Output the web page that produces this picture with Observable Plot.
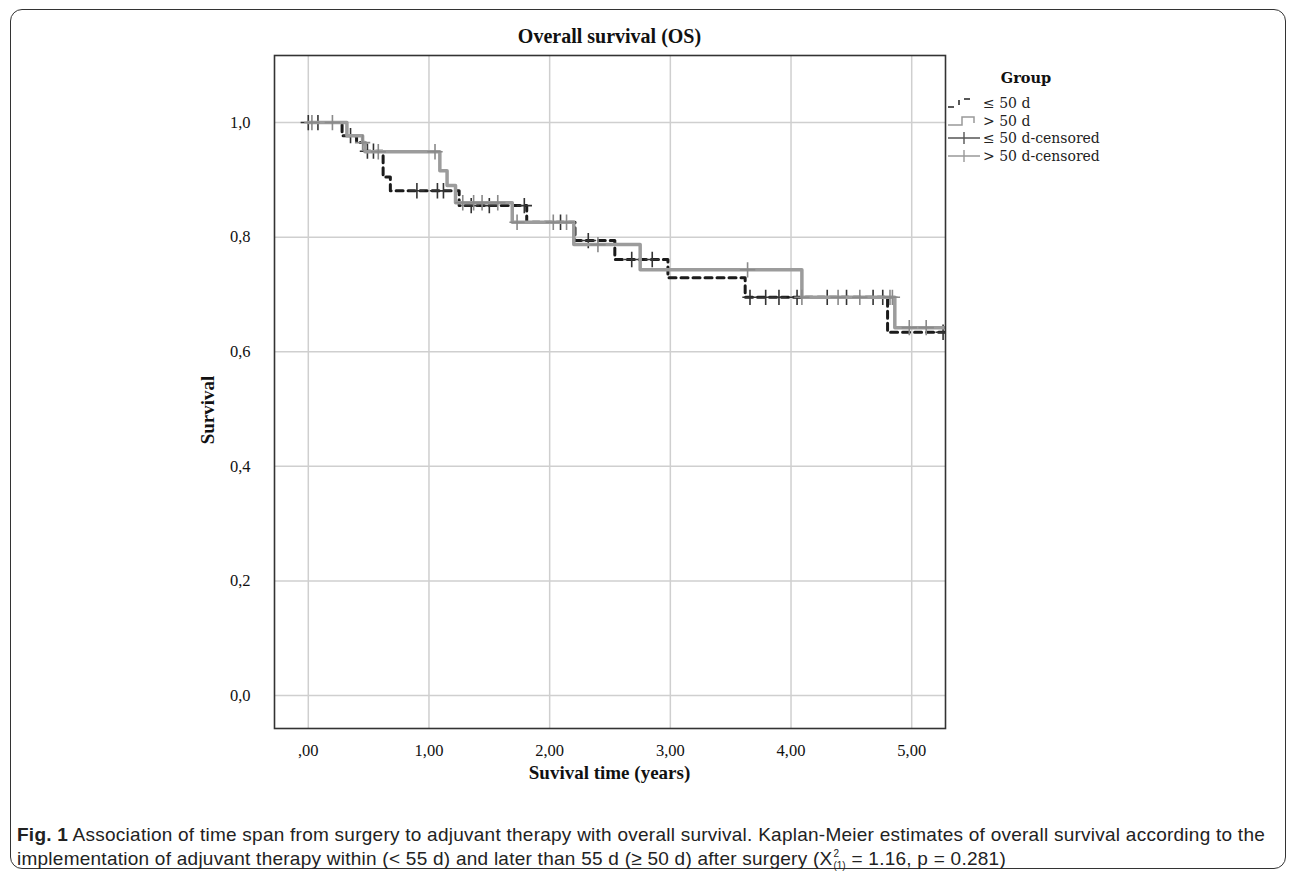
<!DOCTYPE html>
<html>
<head>
<meta charset="utf-8">
<script src="https://cdn.jsdelivr.net/npm/d3@7"></script>
<script src="https://cdn.jsdelivr.net/npm/@observablehq/plot@0.6"></script>
<style>
  html, body { margin: 0; padding: 0; background: #fff; }
  #page { position: relative; width: 1296px; height: 879px; overflow: hidden; }
  #border { position: absolute; left: 10px; top: 9px; width: 1274px; height: 858px; border: 1.5px solid #333; border-radius: 12px; }
  #chart { position: absolute; left: 0; top: 0; }
  .serif { font-family: "Liberation Serif", "DejaVu Serif", serif; color: #111; }
  #title { position: absolute; left: 274px; width: 671px; top: 25px; text-align: center; font-weight: bold; font-size: 20px; }
  #ylab { position: absolute; left: 208px; top: 410px; transform: translate(-50%, -50%) rotate(-90deg); font-weight: bold; font-size: 19px; white-space: nowrap; }
  #xlab { position: absolute; left: 274px; width: 671px; top: 762px; text-align: center; font-weight: bold; font-size: 19px; }
  #legend { position: absolute; left: 940px; top: 60px; }
  #caption { position: absolute; left: 17px; top: 824px; white-space: nowrap; font-family: "Liberation Sans", Arial, sans-serif; font-size: 19px; line-height: 22px; color: #222; letter-spacing: 0.25px; }
  .scr { display: inline-block; position: relative; width: 19px; height: 1em; }
  .scr span { position: absolute; left: 1px; font-size: 10px; line-height: 10px; letter-spacing: 0; }
</style>
</head>
<body>
<div id="page">
  <div id="border"></div>
  <div id="chart"></div>
  <div id="title" class="serif">Overall survival (OS)</div>
  <div id="ylab" class="serif">Survival</div>
  <div id="xlab" class="serif">Suvival time (years)</div>
  <svg id="legend" width="220" height="120"></svg>
  <div id="caption"><b>Fig. 1</b> Association of time span from surgery to adjuvant therapy with overall survival. Kaplan-Meier estimates of overall survival according to the<br>implementation of adjuvant therapy within (&lt; 55 d) and later than 55 d (≥ 50 d) after surgery (X<span class="scr"><span style="top:3px">2</span><span style="top:15px">(1)</span></span>= 1.16, p = 0.281)</div>
</div>
<script>
// ---- Data ----
const groups = ["≤ 50 d", "> 50 d"];
const legendLabels = ["≤ 50 d", "> 50 d", "≤ 50 d-censored", "> 50 d-censored"];

// Kaplan-Meier steps, group ≤ 50 d (dashed black)
const timeLe50 = [0, 0.28, 0.40, 0.47, 0.62, 0.68, 1.25, 1.81, 2.21, 2.54, 2.98, 3.62, 4.80, 5.28];
const survLe50 = [1.0, 0.977, 0.965, 0.95, 0.905, 0.881, 0.855, 0.826, 0.794, 0.761, 0.729, 0.695, 0.634, 0.634];

// Kaplan-Meier steps, group > 50 d (solid grey)
const timeGt50 = [0, 0.32, 0.45, 0.47, 1.09, 1.15, 1.22, 1.69, 2.20, 2.75, 4.09, 4.86, 5.28];
const survGt50 = [1.0, 0.977, 0.965, 0.949, 0.916, 0.89, 0.86, 0.826, 0.787, 0.743, 0.695, 0.642, 0.642];

// Censored observation times
const censorLe50 = [0.0, 0.08, 0.35, 0.49, 0.54, 0.90, 1.07, 1.12, 1.35, 1.50, 1.79, 2.09, 2.32, 2.68, 2.85, 3.66, 3.79, 3.90, 4.05, 4.30, 4.46, 4.68, 4.76, 5.26];
const censorGt50 = [0.03, 0.20, 0.45, 0.58, 1.05, 1.28, 1.37, 1.44, 1.57, 1.73, 2.03, 2.14, 2.40, 3.64, 4.09, 4.39, 4.57, 4.82, 4.84, 4.98, 5.12];

const xTicks = [0, 1, 2, 3, 4, 5];
const xTickLabels = [",00", "1,00", "2,00", "3,00", "4,00", "5,00"];
const yTicks = [0, 0.2, 0.4, 0.6, 0.8, 1.0];
const yTickLabels = ["0,0", "0,2", "0,4", "0,6", "0,8", "1,0"];

// ---- Build tables ----
const stepsLe = timeLe50.map((t, i) => ({t, s: survLe50[i]}));
const stepsGt = timeGt50.map((t, i) => ({t, s: survGt50[i]}));
function survAt(times, survs, t) {
  let s = survs[0];
  for (let i = 0; i < times.length; i++) if (times[i] <= t) s = survs[i];
  return s;
}
const censLe = censorLe50.map(t => ({t, s: survAt(timeLe50, survLe50, t)}));
const censGt = censorGt50.map(t => ({t, s: survAt(timeGt50, survGt50, t)}));

const serif = "Liberation Serif, DejaVu Serif, serif";

const plot = Plot.plot({
  width: 1296,
  height: 790,
  marginLeft: 274,
  marginRight: 351,
  marginTop: 55,
  marginBottom: 62,
  style: {fontFamily: serif, fontSize: "16.5px", color: "#111", background: "transparent"},
  x: {domain: [-0.28, 5.28], label: null},
  y: {domain: [-0.0576, 1.117], label: null},
  marks: [
    Plot.gridX(xTicks, {stroke: "#cfcfcf", strokeOpacity: 1, strokeWidth: 1.5}),
    Plot.gridY(yTicks, {stroke: "#cfcfcf", strokeOpacity: 1, strokeWidth: 1.5}),
    Plot.axisX(xTicks, {tickSize: 0, tickPadding: 16, tickFormat: d => xTickLabels[xTicks.indexOf(d)], fontSize: 16.5}),
    Plot.axisY(yTicks, {tickSize: 0, tickPadding: 24, tickFormat: d => yTickLabels[yTicks.indexOf(d)], fontSize: 16.5}),
    Plot.line(stepsLe, {x: "t", y: "s", curve: "step-after", stroke: "#1b1b1b", strokeWidth: 3, strokeDasharray: "7,5", clip: true}),
    Plot.dot(censLe, {x: "t", y: "s", symbol: "plus", r: 5, stroke: "#333", strokeWidth: 1.6, clip: true}),
    Plot.line(stepsGt, {x: "t", y: "s", curve: "step-after", stroke: "#9c9c9c", strokeWidth: 3.5, clip: true}),
    Plot.dot(censGt, {x: "t", y: "s", symbol: "plus", r: 5, stroke: "#8a8a8a", strokeWidth: 1.6, clip: true}),
    Plot.frame({stroke: "#333", strokeWidth: 1.6})
  ]
});
document.getElementById("chart").appendChild(plot);

// ---- Legend ----
const lg = d3.select("#legend");
const lfont = "DejaVu Serif, Liberation Serif, serif";
lg.append("text").attr("x", 86).attr("y", 23).attr("text-anchor", "middle")
  .attr("font-family", lfont).attr("font-weight", "bold").attr("font-size", 14.5).attr("fill", "#111").text("Group");
const rowY = [43, 61, 78, 96];
// symbol 1: dashed step
lg.append("path").attr("d", `M8,${rowY[0]+4} H14 M19,${rowY[0]+2} V${rowY[0]-3} M24,${rowY[0]-4} H30`)
  .attr("stroke", "#222").attr("stroke-width", 1.5).attr("fill", "none");
// symbol 2: solid step
lg.append("path").attr("d", `M8,${rowY[1]+4} H22 V${rowY[1]-4} H34 V${rowY[1]+2}`)
  .attr("stroke", "#999").attr("stroke-width", 1.5).attr("fill", "none");
// symbols 3,4: censored
[["#555", rowY[2]], ["#999", rowY[3]]].forEach(([c, y]) => {
  lg.append("path").attr("d", `M8,${y} H40 M24,${y-6} V${y+6}`).attr("stroke", c).attr("stroke-width", 1.4).attr("fill", "none");
});
legendLabels.forEach((l, i) => {
  lg.append("text").attr("x", 43).attr("y", rowY[i] + 5).attr("font-family", lfont).attr("font-size", 14).attr("fill", "#222").text(l);
});
</script>
</body>
</html>
